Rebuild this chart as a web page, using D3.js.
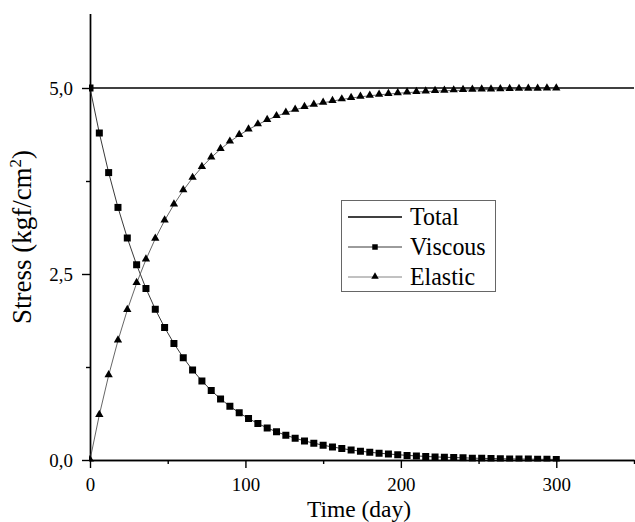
<!DOCTYPE html>
<html><head><meta charset="utf-8">
<script src="https://cdn.jsdelivr.net/npm/d3@7"></script>
<style>
body{margin:0;background:#fff;}
</style></head>
<body><svg id="c" width="635" height="522"></svg>
<script>
const times = d3.range(0, 301, 6);
const viscous = [5.000,4.395,3.863,3.395,2.984,2.623,2.306,2.026,1.781,1.566,1.376,1.209,1.063,0.934,0.821,0.722,0.634,0.558,0.490,0.431,0.379,0.333,0.293,0.257,0.226,0.199,0.175,0.154,0.135,0.119,0.104,0.092,0.081,0.071,0.062,0.055,0.048,0.042,0.037,0.033,0.029,0.025,0.022,0.020,0.017,0.015,0.013,0.012,0.010,0.009,0.008];
const elastic = [0.000,0.605,1.137,1.605,2.016,2.377,2.694,2.974,3.219,3.434,3.624,3.791,3.937,4.066,4.179,4.278,4.366,4.442,4.510,4.569,4.621,4.667,4.707,4.743,4.774,4.801,4.825,4.846,4.865,4.881,4.896,4.908,4.919,4.929,4.938,4.945,4.952,4.958,4.963,4.967,4.971,4.975,4.978,4.980,4.983,4.985,4.987,4.988,4.990,4.991,4.992];
const totalT = [0, 350];
const total = [5.0, 5.0];
const xMajor = [0, 100, 200, 300], xMinor = [50, 150, 250, 350];
const yMajor = [0, 2.5, 5.0], yMinor = [1.25, 3.75];
const seriesNames = ["Total", "Viscous", "Elastic"];
const FONT = "'Liberation Serif', 'Times New Roman', Times, serif";

const svg = d3.select("#c");
const x = d3.scaleLinear().domain([0, 350]).range([90, 634]);
const y = d3.scaleLinear().domain([0, 6]).range([460, 13.6]);
const fmt = d => d3.format(".1f")(d).replace(".", ",");

function squeeze(sel, f){
  sel.each(function(){
    const w = this.getComputedTextLength();
    d3.select(this).attr("textLength", w * f).attr("lengthAdjust", "spacingAndGlyphs");
  });
}

svg.append("defs").append("clipPath").attr("id","clip").append("rect")
  .attr("x", 89).attr("y", 0).attr("width", 546).attr("height", 461.5);

function styleAxis(g){
  g.attr("font-family", FONT);
  g.selectAll("path,line").attr("stroke","#000").attr("stroke-width",1.4);
  g.selectAll("text").attr("font-family", FONT).attr("fill","#000").attr("font-size",19.5);
}
svg.append("g").attr("transform","translate(0,460)")
  .call(d3.axisBottom(x).tickValues(xMinor).tickSize(4).tickSizeOuter(0).tickFormat(""))
  .call(styleAxis);
const gx = svg.append("g").attr("transform","translate(0,460)")
  .call(d3.axisBottom(x).tickValues(xMajor).tickSize(8).tickSizeOuter(0).tickPadding(9))
  .call(styleAxis);
svg.append("g").attr("transform","translate(90,0)")
  .call(d3.axisLeft(y).tickValues(yMinor).tickSize(4).tickSizeOuter(0).tickFormat(""))
  .call(styleAxis);
const gy = svg.append("g").attr("transform","translate(90,0)")
  .call(d3.axisLeft(y).tickValues(yMajor).tickSize(8).tickSizeOuter(0).tickPadding(9).tickFormat(fmt))
  .call(styleAxis);
squeeze(gx.selectAll("text"), 0.97);
squeeze(gy.selectAll("text"), 0.97);

svg.append("text").attr("x", 359).attr("y", 517).attr("text-anchor","middle")
  .attr("font-family", FONT).attr("font-size", 23.5).text("Time (day)");
const yl = svg.append("text").attr("transform","translate(31,237) rotate(-90)")
  .attr("text-anchor","middle").attr("font-family", FONT).attr("font-size", 27);
yl.append("tspan").text("Stress (kgf/cm");
yl.append("tspan").attr("dy",-10).attr("font-size",17).text("2");
yl.append("tspan").attr("dy",10).text(")");

const line = d3.line().x(d => x(d[0])).y(d => y(d[1]));
svg.append("path").datum(d3.zip(totalT, total)).attr("d", line)
  .attr("fill","none").attr("stroke","#000").attr("stroke-width",1.6);
svg.append("path").datum(d3.zip(times, viscous)).attr("d", line)
  .attr("fill","none").attr("stroke","#222").attr("stroke-width",0.9);
svg.append("path").datum(d3.zip(times, elastic)).attr("d", line)
  .attr("fill","none").attr("stroke","#555").attr("stroke-width",0.9);

const mk = svg.append("g").attr("clip-path","url(#clip)");
const sq = d3.symbol().type(d3.symbolSquare).size(49);
const tri = d3.symbol().type(d3.symbolTriangle).size(30);
mk.selectAll(".v").data(d3.zip(times, viscous)).join("path")
  .attr("d", sq).attr("transform", d => `translate(${x(d[0])},${y(d[1])})`).attr("fill","#000");
mk.selectAll(".e").data(d3.zip(times, elastic)).join("path")
  .attr("d", tri).attr("transform", d => `translate(${x(d[0])},${y(d[1])-0.5})`).attr("fill","#000");

const lg = svg.append("g");
lg.append("rect").attr("x",341.5).attr("y",200.5).attr("width",154).attr("height",91)
  .attr("fill","#fff").attr("stroke","#666").attr("stroke-width",1);
const rows = [217, 247, 277];
const lstroke = [["#000",1.6],["#222",0.9],["#777",0.9]];
seriesNames.forEach((n,i) => {
  lg.append("line").attr("x1",348).attr("x2",402).attr("y1",rows[i]).attr("y2",rows[i])
    .attr("stroke",lstroke[i][0]).attr("stroke-width",lstroke[i][1]);
  if (i===1) lg.append("path").attr("d", d3.symbol().type(d3.symbolSquare).size(30)).attr("transform",`translate(375,${rows[i]})`);
  if (i===2) lg.append("path").attr("d", d3.symbol().type(d3.symbolTriangle).size(24)).attr("transform",`translate(375,${rows[i]-0.5})`);
  const t = lg.append("text").attr("x",410).attr("y",rows[i]+8).attr("font-family", FONT).attr("font-size",26).text(n);
  squeeze(t, 0.92);
});
</script></body></html>
